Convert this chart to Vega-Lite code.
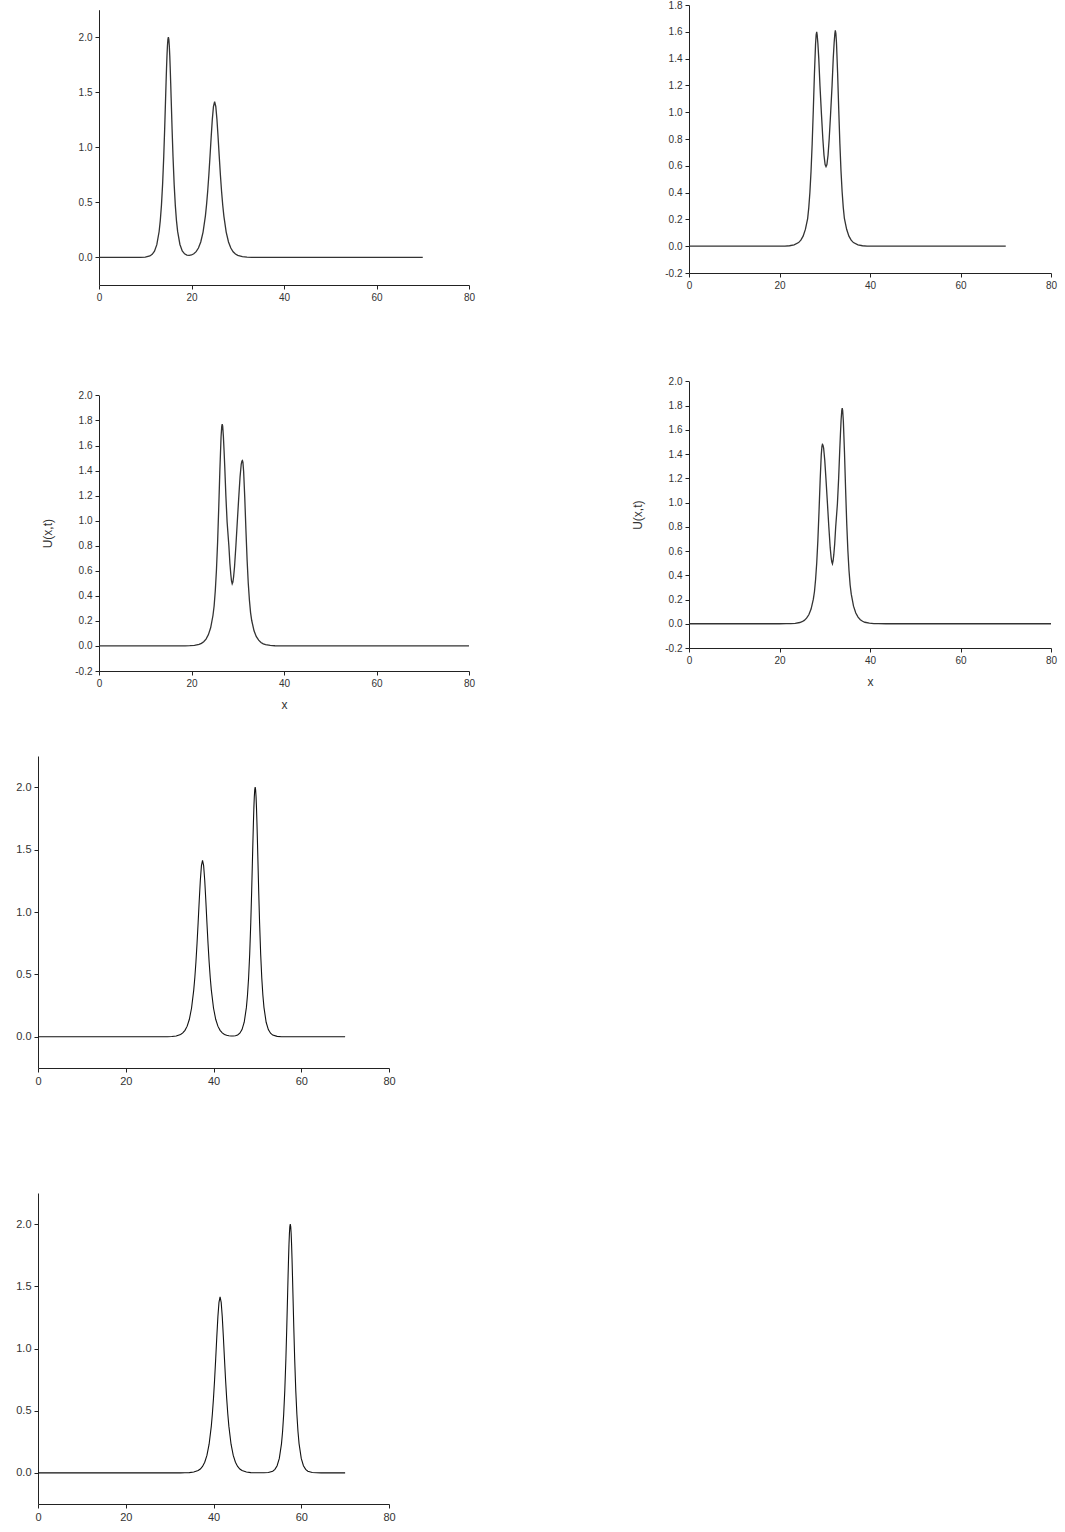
{
  "$schema": "https://vega.github.io/schema/vega-lite/v6.json",
  "padding": {"left": 15, "top": 0, "right": 5, "bottom": 5},
  "background": "white",
  "columns": 2,
  "spacing": {"row": 85, "column": 220},
  "bounds": "flush",
  "align": "each",
  "config": {
    "view": {"stroke": null},
    "axis": {"grid": false, "domainColor": "#222", "tickColor": "#222", "labelColor": "#333", "labelFont": "Liberation Sans", "titleFont": "Liberation Sans", "titleFontWeight": "normal", "titleColor": "#333", "tickSize": 4, "labelPadding": 3, "labelFlush": false, "labelOverlap": false, "labelFontSize": 10, "titleFontSize": 12, "labelExpr": "replace(datum.label, '\u2212', '-')"}
  },
  "concat": [
    {
      "width": 431, "height": 280,
      "data": {"values": [
        {"x":0,"u":0},{"x":8,"u":0.0002},{"x":9,"u":0.0008},{"x":10,"u":0.0034},{"x":11,"u":0.014},{"x":11.5,"u":0.0284},{"x":12,"u":0.0575},{"x":12.5,"u":0.1165},{"x":13,"u":0.2356},{"x":13.25,"u":0.3343},{"x":13.5,"u":0.4727},{"x":13.75,"u":0.6635},{"x":14,"u":0.9182},{"x":14.2,"u":1.1687},{"x":14.4,"u":1.4469},{"x":14.5,"u":1.5866},{"x":14.6,"u":1.7179},{"x":14.7,"u":1.8329},{"x":14.8,"u":1.9225},{"x":14.9,"u":1.98},{"x":15,"u":2.0},{"x":15.1,"u":1.98},{"x":15.2,"u":1.9225},{"x":15.3,"u":1.8329},{"x":15.4,"u":1.7179},{"x":15.5,"u":1.5866},{"x":15.6,"u":1.4469},{"x":15.8,"u":1.1687},{"x":16,"u":0.9186},{"x":16.25,"u":0.664},{"x":16.5,"u":0.4733},{"x":16.75,"u":0.335},{"x":17,"u":0.2366},{"x":17.5,"u":0.1181},{"x":18,"u":0.0601},{"x":18.5,"u":0.0327},{"x":19,"u":0.021},{"x":19.5,"u":0.0185},{"x":20,"u":0.0225},{"x":20.5,"u":0.0331},{"x":21,"u":0.0526},{"x":21.5,"u":0.0857},{"x":22,"u":0.1407},{"x":22.5,"u":0.2306},{"x":23,"u":0.3759},{"x":23.25,"u":0.4771},{"x":23.5,"u":0.6012},{"x":23.75,"u":0.7489},{"x":24,"u":0.9165},{"x":24.25,"u":1.0923},{"x":24.5,"u":1.2542},{"x":24.75,"u":1.3712},{"x":25,"u":1.4142},{"x":25.25,"u":1.3712},{"x":25.5,"u":1.2542},{"x":25.75,"u":1.0923},{"x":26,"u":0.9165},{"x":26.25,"u":0.7489},{"x":26.5,"u":0.6012},{"x":26.75,"u":0.4771},{"x":27,"u":0.3759},{"x":27.5,"u":0.2306},{"x":28,"u":0.1405},{"x":28.5,"u":0.0853},{"x":29,"u":0.0518},{"x":29.5,"u":0.0314},{"x":30,"u":0.0191},{"x":31,"u":0.007},{"x":32,"u":0.0026},{"x":33,"u":0.001},{"x":34,"u":0.0004},{"x":36,"u":0},{"x":70,"u":0}
      ]},
      "mark": {"type": "line", "color": "#333", "strokeWidth": 1.3},
      "encoding": {
        "x": {"field": "x", "type": "quantitative", "scale": {"domain": [0, 80], "range": [61, 431], "nice": false, "zero": false}, "axis": {"values": [0, 20, 40, 60, 80], "title": null}},
        "y": {"field": "u", "type": "quantitative", "scale": {"domain": [-0.25, 2.25], "range": [280, 4.7], "nice": false}, "axis": {"values": [0, 0.5, 1, 1.5, 2], "format": ".1f", "title": null, "offset": -61}}
      }
    },
    {
      "width": 362, "height": 268,
      "data": {"values": [
        {"x":0,"u":0},{"x":19,"u":0},{"x":20.22,"u":0.0004},{"x":21.22,"u":0.0012},{"x":22.22,"u":0.0034},{"x":23.22,"u":0.0095},{"x":24.22,"u":0.027},{"x":24.72,"u":0.045},{"x":25.22,"u":0.075},{"x":25.72,"u":0.125},{"x":26.22,"u":0.206},{"x":26.47,"u":0.288},{"x":26.72,"u":0.403},{"x":26.97,"u":0.559},{"x":27.22,"u":0.764},{"x":27.47,"u":1.015},{"x":27.72,"u":1.286},{"x":27.97,"u":1.51},{"x":28.1,"u":1.578},{"x":28.22,"u":1.6},{"x":28.33,"u":1.575},{"x":28.48,"u":1.515},{"x":28.68,"u":1.4},{"x":28.94,"u":1.2},{"x":29.28,"u":0.98},{"x":29.58,"u":0.8},{"x":29.83,"u":0.68},{"x":30.08,"u":0.61},{"x":30.28,"u":0.594},{"x":30.48,"u":0.61},{"x":30.73,"u":0.68},{"x":30.98,"u":0.8},{"x":31.28,"u":0.98},{"x":31.62,"u":1.2},{"x":31.88,"u":1.405},{"x":32.08,"u":1.52},{"x":32.23,"u":1.585},{"x":32.34,"u":1.61},{"x":32.46,"u":1.587},{"x":32.59,"u":1.52},{"x":32.84,"u":1.294},{"x":33.09,"u":1.021},{"x":33.34,"u":0.769},{"x":33.59,"u":0.562},{"x":33.84,"u":0.406},{"x":34.09,"u":0.29},{"x":34.34,"u":0.207},{"x":34.84,"u":0.126},{"x":35.34,"u":0.075},{"x":35.84,"u":0.045},{"x":36.34,"u":0.027},{"x":37.34,"u":0.0095},{"x":38.34,"u":0.0034},{"x":39.34,"u":0.0012},{"x":40.34,"u":0.0004},{"x":41.5,"u":0},{"x":70,"u":0}
      ]},
      "mark": {"type": "line", "color": "#333", "strokeWidth": 1.3},
      "encoding": {
        "x": {"field": "x", "type": "quantitative", "scale": {"domain": [0, 80], "nice": false, "zero": false}, "axis": {"values": [0, 20, 40, 60, 80], "title": null}},
        "y": {"field": "u", "type": "quantitative", "scale": {"domain": [-0.2, 1.8], "nice": false}, "axis": {"values": [-0.2, 0, 0.2, 0.4, 0.6, 0.8, 1, 1.2, 1.4, 1.6, 1.8], "format": ".1f", "title": null}}
      }
    },
    {
      "width": 431, "height": 301,
      "data": {"values": [
        {"x":0,"u":0},{"x":17,"u":0.0002},{"x":18.64,"u":0.0007},{"x":19.64,"u":0.0018},{"x":20.64,"u":0.0046},{"x":21.64,"u":0.0124},{"x":22.14,"u":0.0204},{"x":22.64,"u":0.0336},{"x":23.14,"u":0.055},{"x":23.64,"u":0.0886},{"x":24.14,"u":0.145},{"x":24.64,"u":0.243},{"x":24.89,"u":0.319},{"x":25.14,"u":0.439},{"x":25.39,"u":0.602},{"x":25.64,"u":0.823},{"x":25.89,"u":1.105},{"x":26.14,"u":1.411},{"x":26.39,"u":1.668},{"x":26.54,"u":1.753},{"x":26.64,"u":1.771},{"x":26.74,"u":1.755},{"x":26.89,"u":1.675},{"x":27.04,"u":1.56},{"x":27.19,"u":1.43},{"x":27.43,"u":1.2},{"x":27.7,"u":0.99},{"x":28.08,"u":0.8},{"x":28.3,"u":0.66},{"x":28.5,"u":0.57},{"x":28.65,"u":0.52},{"x":28.8,"u":0.496},{"x":28.95,"u":0.51},{"x":29.1,"u":0.55},{"x":29.3,"u":0.63},{"x":29.6,"u":0.8},{"x":29.9,"u":0.99},{"x":30.24,"u":1.2},{"x":30.5,"u":1.35},{"x":30.75,"u":1.45},{"x":30.9,"u":1.475},{"x":31.02,"u":1.48},{"x":31.12,"u":1.465},{"x":31.27,"u":1.394},{"x":31.52,"u":1.18},{"x":31.77,"u":0.924},{"x":32.02,"u":0.688},{"x":32.27,"u":0.503},{"x":32.52,"u":0.367},{"x":32.77,"u":0.266},{"x":33.02,"u":0.203},{"x":33.52,"u":0.121},{"x":34.02,"u":0.074},{"x":34.52,"u":0.046},{"x":35.02,"u":0.028},{"x":35.52,"u":0.017},{"x":36.02,"u":0.0104},{"x":37.02,"u":0.0038},{"x":38.02,"u":0.0015},{"x":39.02,"u":0.0006},{"x":40.5,"u":0.0001},{"x":80,"u":0}
      ]},
      "mark": {"type": "line", "color": "#333", "strokeWidth": 1.3},
      "encoding": {
        "x": {"field": "x", "type": "quantitative", "scale": {"domain": [0, 80], "range": [61, 431], "nice": false, "zero": false}, "axis": {"values": [0, 20, 40, 60, 80], "title": "x", "titlePadding": 11}},
        "y": {"field": "u", "type": "quantitative", "scale": {"domain": [-0.2, 2.0], "range": [301, 25.4], "nice": false}, "axis": {"values": [-0.2, 0, 0.2, 0.4, 0.6, 0.8, 1, 1.2, 1.4, 1.6, 1.8, 2.0], "format": ".1f", "title": "U(x,t)", "titlePadding": 20, "offset": -61}}
      }
    },
    {
      "width": 362, "height": 278,
      "data": {"values": [
        {"x":0,"u":0},{"x":20,"u":0.0001},{"x":21.48,"u":0.0006},{"x":22.48,"u":0.0015},{"x":23.48,"u":0.0038},{"x":24.48,"u":0.0104},{"x":24.98,"u":0.017},{"x":25.48,"u":0.028},{"x":25.98,"u":0.046},{"x":26.48,"u":0.074},{"x":26.98,"u":0.121},{"x":27.48,"u":0.203},{"x":27.73,"u":0.266},{"x":27.98,"u":0.367},{"x":28.23,"u":0.503},{"x":28.48,"u":0.688},{"x":28.73,"u":0.924},{"x":28.98,"u":1.18},{"x":29.23,"u":1.394},{"x":29.38,"u":1.465},{"x":29.48,"u":1.48},{"x":29.6,"u":1.475},{"x":29.75,"u":1.45},{"x":30.0,"u":1.35},{"x":30.26,"u":1.2},{"x":30.6,"u":0.99},{"x":30.9,"u":0.8},{"x":31.2,"u":0.63},{"x":31.4,"u":0.55},{"x":31.55,"u":0.51},{"x":31.7,"u":0.494},{"x":31.85,"u":0.52},{"x":32.0,"u":0.57},{"x":32.2,"u":0.66},{"x":32.42,"u":0.8},{"x":32.8,"u":0.99},{"x":33.07,"u":1.2},{"x":33.31,"u":1.43},{"x":33.46,"u":1.56},{"x":33.61,"u":1.68},{"x":33.76,"u":1.76},{"x":33.86,"u":1.78},{"x":33.96,"u":1.76},{"x":34.11,"u":1.673},{"x":34.36,"u":1.415},{"x":34.61,"u":1.108},{"x":34.86,"u":0.826},{"x":35.11,"u":0.604},{"x":35.36,"u":0.44},{"x":35.61,"u":0.32},{"x":35.86,"u":0.244},{"x":36.36,"u":0.145},{"x":36.86,"u":0.0886},{"x":37.36,"u":0.055},{"x":37.86,"u":0.0336},{"x":38.36,"u":0.0204},{"x":38.86,"u":0.0124},{"x":39.86,"u":0.0046},{"x":40.86,"u":0.0018},{"x":41.86,"u":0.0007},{"x":43.5,"u":0.0002},{"x":80,"u":0}
      ]},
      "mark": {"type": "line", "color": "#333", "strokeWidth": 1.3},
      "encoding": {
        "x": {"field": "x", "type": "quantitative", "scale": {"domain": [0, 80], "nice": false, "zero": false}, "axis": {"values": [0, 20, 40, 60, 80], "title": "x", "titlePadding": 11}},
        "y": {"field": "u", "type": "quantitative", "scale": {"domain": [-0.2, 2.0], "range": [278, 11.4], "nice": false}, "axis": {"values": [-0.2, 0, 0.2, 0.4, 0.6, 0.8, 1, 1.2, 1.4, 1.6, 1.8, 2.0], "format": ".1f", "title": "U(x,t)", "titlePadding": 20}}
      }
    },
    {
      "width": 351, "height": 312,
      "data": {"values": [
        {"x":0,"u":0},{"x":27,"u":0},{"x":28.5,"u":0.0004},{"x":29.5,"u":0.001},{"x":30.5,"u":0.0026},{"x":31.5,"u":0.007},{"x":32.5,"u":0.0191},{"x":33,"u":0.0314},{"x":33.5,"u":0.0518},{"x":34,"u":0.0853},{"x":34.5,"u":0.1405},{"x":35,"u":0.2306},{"x":35.5,"u":0.3759},{"x":35.75,"u":0.4771},{"x":36,"u":0.6012},{"x":36.25,"u":0.7489},{"x":36.5,"u":0.9165},{"x":36.75,"u":1.0923},{"x":37,"u":1.2542},{"x":37.25,"u":1.3712},{"x":37.5,"u":1.4142},{"x":37.75,"u":1.3712},{"x":38,"u":1.2542},{"x":38.25,"u":1.0923},{"x":38.5,"u":0.9165},{"x":38.75,"u":0.7489},{"x":39,"u":0.6012},{"x":39.25,"u":0.4771},{"x":39.5,"u":0.3759},{"x":40,"u":0.2306},{"x":40.5,"u":0.1405},{"x":41,"u":0.0853},{"x":41.5,"u":0.0519},{"x":42,"u":0.0315},{"x":42.5,"u":0.0193},{"x":43,"u":0.012},{"x":43.5,"u":0.0078},{"x":44,"u":0.0059},{"x":44.5,"u":0.006},{"x":45,"u":0.0085},{"x":45.5,"u":0.015},{"x":46,"u":0.029},{"x":46.5,"u":0.0579},{"x":47,"u":0.1167},{"x":47.5,"u":0.2357},{"x":47.75,"u":0.3343},{"x":48,"u":0.4727},{"x":48.25,"u":0.6635},{"x":48.5,"u":0.9182},{"x":48.7,"u":1.1687},{"x":48.9,"u":1.4469},{"x":49,"u":1.5866},{"x":49.1,"u":1.7179},{"x":49.2,"u":1.8329},{"x":49.3,"u":1.9225},{"x":49.4,"u":1.98},{"x":49.5,"u":2.0},{"x":49.6,"u":1.98},{"x":49.7,"u":1.9225},{"x":49.8,"u":1.8329},{"x":49.9,"u":1.7179},{"x":50,"u":1.5866},{"x":50.1,"u":1.4469},{"x":50.3,"u":1.1687},{"x":50.5,"u":0.9182},{"x":50.75,"u":0.6635},{"x":51,"u":0.4727},{"x":51.25,"u":0.3343},{"x":51.5,"u":0.2356},{"x":52,"u":0.1165},{"x":52.5,"u":0.0575},{"x":53,"u":0.0284},{"x":53.5,"u":0.014},{"x":54.5,"u":0.0034},{"x":55.5,"u":0.0008},{"x":56.5,"u":0.0002},{"x":70,"u":0}
      ]},
      "mark": {"type": "line", "color": "#111", "strokeWidth": 1.1},
      "encoding": {
        "x": {"field": "x", "type": "quantitative", "scale": {"domain": [0, 80], "nice": false, "zero": false}, "axis": {"values": [0, 20, 40, 60, 80], "title": null, "labelFontSize": 11}},
        "y": {"field": "u", "type": "quantitative", "scale": {"domain": [-0.25, 2.25], "nice": false}, "axis": {"values": [0, 0.5, 1, 1.5, 2], "format": ".1f", "title": null, "labelFontSize": 11}}
      }
    },
    {
      "width": 1, "height": 1,
      "data": {"values": []},
      "mark": "point"
    },
    {
      "width": 351, "height": 351,
      "data": {"values": [
        {"x":0,"u":0},{"x":31.5,"u":0.0001},{"x":32.5,"u":0.0004},{"x":33.5,"u":0.001},{"x":34.5,"u":0.0026},{"x":35.5,"u":0.007},{"x":36.5,"u":0.0191},{"x":37,"u":0.0314},{"x":37.5,"u":0.0518},{"x":38,"u":0.0853},{"x":38.5,"u":0.1405},{"x":39,"u":0.2306},{"x":39.5,"u":0.3759},{"x":39.75,"u":0.4771},{"x":40,"u":0.6012},{"x":40.25,"u":0.7489},{"x":40.5,"u":0.9165},{"x":40.75,"u":1.0923},{"x":41,"u":1.2542},{"x":41.25,"u":1.3712},{"x":41.5,"u":1.4142},{"x":41.75,"u":1.3712},{"x":42,"u":1.2542},{"x":42.25,"u":1.0923},{"x":42.5,"u":0.9165},{"x":42.75,"u":0.7489},{"x":43,"u":0.6012},{"x":43.25,"u":0.4771},{"x":43.5,"u":0.3759},{"x":44,"u":0.2306},{"x":44.5,"u":0.1405},{"x":45,"u":0.0853},{"x":45.5,"u":0.0518},{"x":46,"u":0.0314},{"x":46.5,"u":0.0191},{"x":47.5,"u":0.007},{"x":48.5,"u":0.0026},{"x":49.5,"u":0.001},{"x":50.5,"u":0.0006},{"x":51.5,"u":0.0009},{"x":52.5,"u":0.0034},{"x":53.5,"u":0.014},{"x":54,"u":0.0284},{"x":54.5,"u":0.0575},{"x":55,"u":0.1165},{"x":55.5,"u":0.2356},{"x":55.75,"u":0.3343},{"x":56,"u":0.4727},{"x":56.25,"u":0.6635},{"x":56.5,"u":0.9182},{"x":56.7,"u":1.1687},{"x":56.9,"u":1.4469},{"x":57,"u":1.5866},{"x":57.1,"u":1.7179},{"x":57.2,"u":1.8329},{"x":57.3,"u":1.9225},{"x":57.4,"u":1.98},{"x":57.5,"u":2.0},{"x":57.6,"u":1.98},{"x":57.7,"u":1.9225},{"x":57.8,"u":1.8329},{"x":57.9,"u":1.7179},{"x":58,"u":1.5866},{"x":58.1,"u":1.4469},{"x":58.3,"u":1.1687},{"x":58.5,"u":0.9182},{"x":58.75,"u":0.6635},{"x":59,"u":0.4727},{"x":59.25,"u":0.3343},{"x":59.5,"u":0.2356},{"x":60,"u":0.1165},{"x":60.5,"u":0.0575},{"x":61,"u":0.0284},{"x":61.5,"u":0.014},{"x":62.5,"u":0.0034},{"x":63.5,"u":0.0008},{"x":64.5,"u":0.0002},{"x":70,"u":0}
      ]},
      "mark": {"type": "line", "color": "#111", "strokeWidth": 1.1},
      "encoding": {
        "x": {"field": "x", "type": "quantitative", "scale": {"domain": [0, 80], "nice": false, "zero": false}, "axis": {"values": [0, 20, 40, 60, 80], "title": null, "labelFontSize": 11}},
        "y": {"field": "u", "type": "quantitative", "scale": {"domain": [-0.25, 2.25], "range": [351, 40], "nice": false}, "axis": {"values": [0, 0.5, 1, 1.5, 2], "format": ".1f", "title": null, "labelFontSize": 11}}
      }
    }
  ]
}
